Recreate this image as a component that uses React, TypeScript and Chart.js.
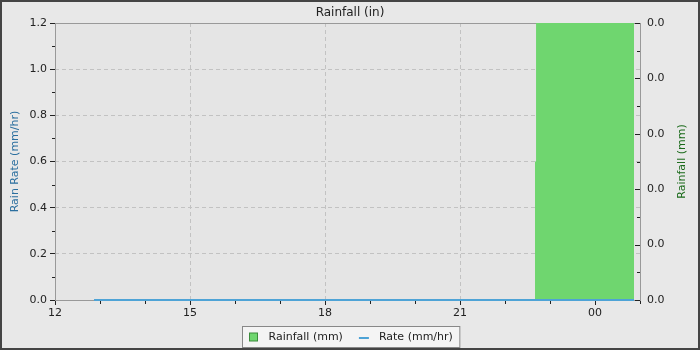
import { useEffect, useRef } from 'react';
import { Chart, registerables } from 'chart.js';

Chart.register(...registerables);

const chartTitle = 'Rainfall (in)';
const rateLabel = 'Rate (mm/hr)';
const rainLabel = 'Rainfall (mm)';
const rateAxisTitle = 'Rain Rate (mm/hr)';
const rainAxisTitle = 'Rainfall (mm)';

// hours since midnight of the first day (24 = 00 next day)
const xMajorTicks = [12, 15, 18, 21, 24];
const xMinorTicks = [13, 14, 16, 17, 19, 20, 22, 23, 25];
const rateTicks = [0, 0.2, 0.4, 0.6, 0.8, 1.0, 1.2];
const rateMinorTicks = [0.1, 0.3, 0.5, 0.7, 0.9, 1.1];
const rainTicks = [0, 0.008, 0.016, 0.024, 0.032, 0.04];
const rainMinorTicks = [0.004, 0.012, 0.02, 0.028, 0.036];

const rateTimes = [12.867, 16.0, 20.0, 22.667, 24.867];
const rateValues = [0, 0, 0, 0, 0];
const rainTimes = [12.867, 22.667, 22.69, 24.867];
const rainValues = [0, 0.02, 0.5, 0.5];

const FONT = "'DejaVu Sans', sans-serif";
const GREEN = '#6fd66f';
const BLUE = '#4ea3d6';

const pad2 = (n: number) => String(Math.round(n) % 24).padStart(2, '0');

export default function App() {
  const ref = useRef<HTMLCanvasElement | null>(null);

  useEffect(() => {
    if (!ref.current) return;
    document.body.style.margin = '0';

    const decor = {
      id: 'decor',
      beforeDraw(chart: any) {
        const { ctx, chartArea: a } = chart;
        ctx.save();
        ctx.fillStyle = '#e8e8e8';
        ctx.fillRect(0, 0, chart.width, chart.height);
        ctx.fillStyle = '#e5e5e5';
        ctx.fillRect(a.left, a.top, a.right - a.left, a.bottom - a.top);
        ctx.restore();
      },
      beforeDatasetsDraw(chart: any) {
        const { ctx, chartArea: a, scales } = chart;
        ctx.save();
        ctx.strokeStyle = '#999999';
        ctx.lineWidth = 1;
        ctx.strokeRect(a.left + 0.5, a.top + 0.5, a.right - a.left, a.bottom - a.top);
        ctx.strokeStyle = '#222';
        ctx.beginPath();
        for (const v of rateMinorTicks) {
          const y = Math.round(scales.y.getPixelForValue(v)) + 0.5;
          ctx.moveTo(a.left - 3, y);
          ctx.lineTo(a.left, y);
        }
        for (const h of xMinorTicks) {
          const x = Math.round(scales.x.getPixelForValue(h)) + 0.5;
          ctx.moveTo(x, a.bottom + 1);
          ctx.lineTo(x, a.bottom + 4);
        }
        for (const v of rainTicks) {
          const y = Math.round(scales.y1.getPixelForValue(v)) + 0.5;
          ctx.moveTo(a.right - 5, y);
          ctx.lineTo(a.right, y);
        }
        for (const v of rainMinorTicks) {
          const y = Math.round(scales.y1.getPixelForValue(v)) + 0.5;
          ctx.moveTo(a.right - 3, y);
          ctx.lineTo(a.right, y);
        }
        ctx.stroke();
        ctx.restore();
      },
      afterDraw(chart: any) {
        const { ctx, chartArea: a } = chart;
        ctx.save();
        // right axis title
        ctx.translate(682, (a.top + a.bottom) / 2);
        ctx.rotate(-Math.PI / 2);
        ctx.fillStyle = '#1a6a1a';
        ctx.font = `11px ${FONT}`;
        ctx.textAlign = 'center';
        ctx.textBaseline = 'middle';
        ctx.fillText(rainAxisTitle, 0, 0);
        ctx.restore();

        // legend
        ctx.save();
        ctx.font = `11px ${FONT}`;
        const w1 = ctx.measureText(rainLabel).width;
        const w2 = ctx.measureText(rateLabel).width;
        const total = 7 + 8 + 11 + w1 + 16 + 10 + 10 + w2 + 7;
        const bx = Math.round(350.5 - total / 2) + 0.5;
        const by = 326.5;
        const bh = 21;
        ctx.fillStyle = '#f4f4f4';
        ctx.fillRect(bx, by, total, bh);
        ctx.strokeStyle = '#888888';
        ctx.lineWidth = 1;
        ctx.strokeRect(bx, by, total, bh);
        const cy = by + bh / 2;
        let x = bx + 7;
        ctx.fillStyle = GREEN;
        ctx.fillRect(x, cy - 4, 8, 8);
        ctx.strokeStyle = '#3c8c3c';
        ctx.strokeRect(x, cy - 4, 8, 8);
        x += 8 + 11;
        ctx.fillStyle = '#222';
        ctx.textBaseline = 'middle';
        ctx.textAlign = 'left';
        ctx.fillText(rainLabel, x, cy);
        x += w1 + 16;
        ctx.strokeStyle = BLUE;
        ctx.lineWidth = 2;
        ctx.beginPath();
        ctx.moveTo(x, cy + 1);
        ctx.lineTo(x + 10, cy + 1);
        ctx.stroke();
        x += 10 + 10;
        ctx.fillText(rateLabel, x, cy);
        ctx.restore();

        // outer frame
        ctx.save();
        ctx.strokeStyle = '#444444';
        ctx.lineWidth = 2;
        ctx.strokeRect(1, 1, chart.width - 2, chart.height - 2);
        ctx.restore();
      },
    };

    const tickFont = { family: FONT, size: 11 };

    const chart = new Chart(ref.current, {
      type: 'line',
      data: {
        datasets: [
          {
            label: rateLabel,
            data: rateTimes.map((t, i) => ({ x: t, y: rateValues[i] })),
            yAxisID: 'y',
            borderColor: BLUE,
            borderWidth: 2,
            pointRadius: 0,
            fill: false,
            order: 0,
            clip: 2,
          },
          {
            label: rainLabel,
            data: rainTimes.map((t, i) => ({ x: t, y: rainValues[i] })),
            yAxisID: 'y1',
            stepped: true,
            borderColor: 'transparent',
            borderWidth: 0,
            backgroundColor: GREEN,
            pointRadius: 0,
            fill: 'origin',
            order: 1,
          },
        ] as any,
      },
      options: {
        animation: false,
        responsive: false,
        layout: { padding: 0 },
        plugins: {
          legend: { display: false },
          tooltip: { enabled: false },
          title: {
            display: true,
            text: chartTitle,
            color: '#222',
            font: { family: FONT, size: 12, weight: 'normal' },
            padding: { top: 6, bottom: 2.6 },
          },
        },
        scales: {
          x: {
            type: 'linear',
            min: 12,
            max: 25,
            afterBuildTicks: (s: any) => {
              s.ticks = xMajorTicks.map((v) => ({ value: v }));
            },
            afterFit: (s: any) => {
              s.height = 50;
            },
            ticks: {
              callback: (v: any) => pad2(Number(v)),
              color: '#222',
              font: tickFont,
              padding: 2,
              maxRotation: 0,
              autoSkip: false,
            },
            grid: {
              color: (c: any) =>
                c.tick && (c.tick.value === 12 || c.tick.value === 25) ? 'rgba(0,0,0,0)' : '#c2c2c2',
              tickColor: '#222',
              tickLength: 5,
              lineWidth: 1,
            },
            border: { display: false, dash: [4, 3] },
          },
          y: {
            type: 'linear',
            position: 'left',
            min: 0,
            max: 1.2,
            afterBuildTicks: (s: any) => {
              s.ticks = rateTicks.map((v) => ({ value: v }));
            },
            afterFit: (s: any) => {
              s.width = 55;
            },
            ticks: {
              callback: (v: any) => Number(v).toFixed(1),
              color: '#222',
              font: tickFont,
              padding: 3,
            },
            grid: {
              color: (c: any) =>
                c.tick && (c.tick.value === 0 || c.tick.value === 1.2) ? 'rgba(0,0,0,0)' : '#c2c2c2',
              tickColor: '#222',
              tickLength: 5,
              lineWidth: 1,
            },
            border: { display: false, dash: [4, 3] },
            title: {
              display: true,
              text: rateAxisTitle,
              color: '#2b6f9f',
              font: { family: FONT, size: 11 },
              padding: { top: 9, bottom: 0 },
            },
          },
          y1: {
            type: 'linear',
            position: 'right',
            min: 0,
            max: 0.04,
            afterBuildTicks: (s: any) => {
              s.ticks = rainTicks.map((v) => ({ value: v }));
            },
            afterFit: (s: any) => {
              s.width = 60;
            },
            ticks: {
              callback: (v: any) => Number(v).toFixed(1),
              color: '#222',
              font: tickFont,
              padding: 7,
            },
            grid: { drawOnChartArea: false, drawTicks: false },
            border: { display: false },
          },
        },
      } as any,
      plugins: [decor],
    });

    return () => chart.destroy();
  }, []);

  return (
    <div style={{ position: 'fixed', left: 0, top: 0, width: 700, height: 350 }}>
      <canvas ref={ref} width={700} height={350} style={{ display: 'block', width: 700, height: 350 }} />
    </div>
  );
}
